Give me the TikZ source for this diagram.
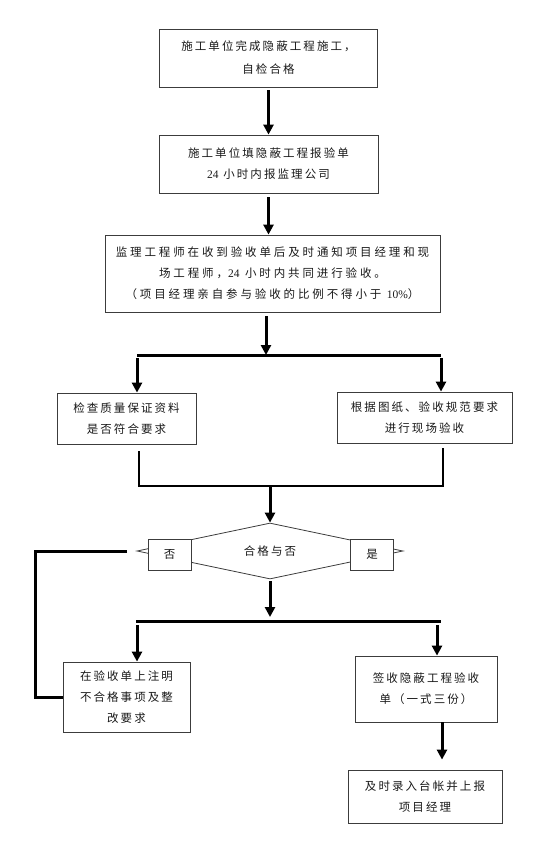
\documentclass[tikz,border=0pt]{standalone}
\usepackage{fontspec}
\usepackage{tikz}
\usetikzlibrary{arrows.meta,positioning,shapes.geometric,calc}
\newfontfamily\cjk[LetterSpace=18]{Noto Sans CJK SC}
\newfontfamily\cjkwide[LetterSpace=25]{Noto Sans CJK SC}
\newfontfamily\digits{Liberation Serif}
\newcommand{\num}[1]{{\digits #1}}
\definecolor{boxline}{RGB}{60,60,60}

\begin{document}
\begin{tikzpicture}[x=1pt, y=-1pt,
  every node/.style={font=\cjk\fontsize{11.5}{21}\selectfont, align=center, text=black!90},
  stepbox/.style={draw=boxline, line width=0.8pt, inner sep=0pt},
  flow/.style={line width=3pt, -{Triangle[length=10pt,width=10pt]}},
  heavyline/.style={line width=3pt},
  thinline/.style={line width=2pt}]
\useasboundingbox (0,0) rectangle (537,842);

% boxes
\node[stepbox, minimum width=218pt, minimum height=58pt] (done) at (268.5,58)
  {施工单位完成隐蔽工程施工，\\[2pt]自检合格};
\node[stepbox, minimum width=219pt, minimum height=58pt] (report) at (268.5,164)
  {施工单位填隐蔽工程报验单\\\num{24} 小时内报监理公司};
\node[stepbox, minimum width=335pt, minimum height=77pt] (notify) at (272.5,273.5)
  {\cjkwide 监理工程师在收到验收单后及时通知项目经理和现\\
   \cjkwide 场工程师，\num{24} 小时内共同进行验收。\\
   \cjkwide （项目经理亲自参与验收的比例不得小于 \num{10\%}）};
\node[stepbox, minimum width=139pt, minimum height=51pt] (docs) at (126.5,418.5)
  {检查质量保证资料\\是否符合要求};
\node[stepbox, minimum width=175pt, minimum height=51pt] (site) at (424.5,417.5)
  {根据图纸、验收规范要求\\进行现场验收};
\node[diamond, draw=boxline, line width=0.8pt, aspect=5, inner sep=0pt,
      minimum width=266pt, minimum height=56pt] (judge) at (270,551) {合格与否};
\node[stepbox, fill=white, minimum width=43pt, minimum height=31pt] (no) at (169.5,554.5) {否};
\node[stepbox, fill=white, minimum width=43pt, minimum height=31pt] (yes) at (372,554.5) {是};
\node[stepbox, minimum width=127pt, minimum height=70pt] (fix) at (126.5,697)
  {在验收单上注明\\不合格事项及整\\改要求};
\node[stepbox, minimum width=142pt, minimum height=66pt] (sign) at (426,689)
  {签收隐蔽工程验收\\单（一式三份）};
\node[stepbox, minimum width=154pt, minimum height=53pt] (file) at (425,796.5)
  {及时录入台帐并上报\\项目经理};

% branch points
\coordinate (split1) at (266,355);
\coordinate (sL) at (137,355);
\coordinate (sR) at (441,355);
\coordinate (mL) at (139,486);
\coordinate (mR) at (443,486);
\coordinate (mC) at (270,486);
\coordinate (split2) at (270,617);
\coordinate (tL) at (136,621);
\coordinate (tR) at (441,621);
\coordinate (aL) at (137,621);
\coordinate (aR) at (437,621);
\coordinate (aD) at (442,722);
\coordinate (fb) at (127,551);
\coordinate (fbcorner) at (35,551);

% connectors
\draw[flow, shorten <=3pt] (done.south) -- (report.north);
\draw[flow, shorten <=4pt] (report.south) -- (report.south |- notify.north);
\draw[flow, shorten <=4pt] (notify.south -| split1) -- (split1);
\draw[heavyline] (sL) -- (sR);
\draw[flow, shorten <=3pt] (sL) -- (sL |- docs.north);
\draw[flow, shorten <=3pt] (sR) -- (sR |- site.north);
\draw[thinline, shorten <=7pt, shorten >=5pt] (docs.south -| mL) -- (mL) -- (mR) -- (site.south -| mR);
\draw[flow] (mC) -- (judge.north);
\draw[flow, shorten <=2pt] (judge.south) -- (split2);
\draw[heavyline] (tL) -- (tR);
\draw[flow, shorten <=4pt] (aL) -- (aL |- fix.north);
\draw[flow, shorten <=4pt] (aR) -- (aR |- sign.north);
\draw[flow, shorten >=10pt] (aD) -- (aD |- file.north);
\draw[heavyline] (fb) -- (fbcorner) |- (fix.west);
\end{tikzpicture}
\end{document}
